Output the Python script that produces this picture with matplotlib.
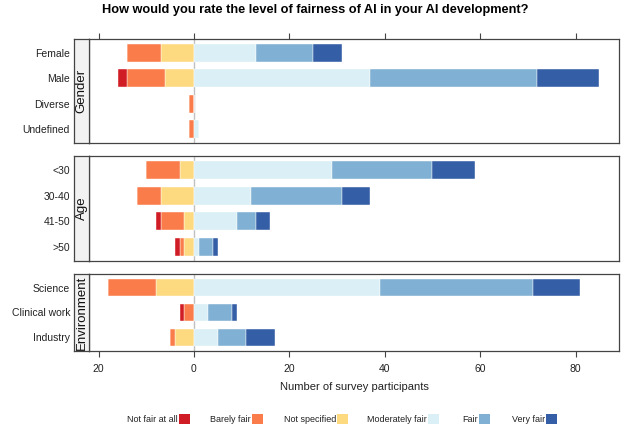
import matplotlib
matplotlib.use("Agg")
import matplotlib.pyplot as plt
import numpy as np

plt.rcParams['font.family'] = ['Liberation Sans', 'DejaVu Sans']

title = "How would you rate the level of fairness of AI in your AI development?"
xlabel = "Number of survey participants"

groups = ["Gender", "Age", "Environment"]
gender_cats = ["Female", "Male", "Diverse", "Undefined"]
age_cats = ["<30", "30-40", "41-50", ">50"]
env_cats = ["Science", "Clinical work", "Industry"]

levels = ["Not fair at all", "Barely fair", "Not specified", "Moderately fair", "Fair", "Very fair"]
colors = ["#d01c24", "#f97c4a", "#fdd97f", "#daeff6", "#80b0d3", "#345ea6"]

# values per category, in order: gender, age, environment
not_fair_at_all = [0, 2, 0, 0, 0, 0, 1, 1, 0, 1, 0]
barely_fair     = [7, 8, 1, 1, 7, 5, 5, 1, 10, 2, 1]
not_specified   = [7, 6, 0, 0, 3, 7, 2, 2, 8, 0, 4]
moderately_fair = [13, 37, 0, 1, 29, 12, 9, 1, 39, 3, 5]
fair            = [12, 35, 0, 0, 21, 19, 4, 3, 32, 5, 6]
very_fair       = [6, 13, 0, 0, 9, 6, 3, 1, 10, 1, 6]

xticks = [-20, 0, 20, 40, 60, 80]

W, H = 630, 428
fig = plt.figure(figsize=(W / 100, H / 100), dpi=100)

panel_px = [(39, 143), (156, 261), (274, 351)]
cat_lists = [gender_cats, age_cats, env_cats]
left_px, right_px, strip_px = 89, 619, 74
frame_col = "#444444"

start = 0
for gi, (grp, cats, (ptop, pbot)) in enumerate(zip(groups, cat_lists, panel_px)):
    n = len(cats)
    sl = slice(start, start + n)
    start += n
    ax = fig.add_axes([left_px / W, 1 - pbot / H, (right_px - left_px) / W, (pbot - ptop) / H])
    y = np.arange(n)
    nf = np.array(not_fair_at_all[sl]); bf = np.array(barely_fair[sl]); ns = np.array(not_specified[sl])
    mf = np.array(moderately_fair[sl]); fa = np.array(fair[sl]); vf = np.array(very_fair[sl])
    h = 0.7
    ax.axvline(0, color="#c0c0c0", lw=1.0, zorder=1)
    kw = dict(height=h, edgecolor="white", linewidth=0.3, zorder=2)
    ax.barh(y, -ns, left=0, color=colors[2], **kw)
    ax.barh(y, -bf, left=-ns, color=colors[1], **kw)
    ax.barh(y, -nf, left=-ns - bf, color=colors[0], **kw)
    ax.barh(y, mf, left=0, color=colors[3], **kw)
    ax.barh(y, fa, left=mf, color=colors[4], **kw)
    ax.barh(y, vf, left=mf + fa, color=colors[5], **kw)
    ax.set_xlim(-22, 89.1)
    ax.set_ylim(n - 0.45, -0.55)
    ax.set_yticks(y)
    ax.set_yticklabels(cats, fontsize=7.5, color="#222222")
    ax.tick_params(axis="y", length=0, pad=(left_px - 70) * 0.72)
    ax.set_xticks(xticks)
    if gi == 0:
        ax.xaxis.set_ticks_position("top")
        ax.tick_params(axis="x", direction="out", length=4, width=0.8, color=frame_col,
                       labeltop=False, labelbottom=False, bottom=False)
    elif gi == 2:
        ax.set_xticklabels([str(abs(t)) for t in xticks], fontsize=7.5, color="#222222")
        ax.tick_params(axis="x", direction="out", length=4, width=0.8, color=frame_col, pad=5)
        ax.set_xlabel(xlabel, fontsize=8, color="#222222", labelpad=6)
    else:
        ax.tick_params(axis="x", length=0, labelbottom=False)
    for s in ax.spines.values():
        s.set_color(frame_col)
        s.set_linewidth(0.9)
    # strip
    sax = fig.add_axes([strip_px / W, 1 - pbot / H, (left_px - strip_px) / W, (pbot - ptop) / H])
    sax.set_facecolor("#f2f2f2")
    sax.set_xticks([]); sax.set_yticks([])
    for s in sax.spines.values():
        s.set_color(frame_col)
        s.set_linewidth(0.9)
    sax.text(0.5, 0.5, grp, rotation=90, ha="center", va="center", fontsize=9.5,
             transform=sax.transAxes, color="#111111")

fig.text(315 / W, 1 - 10 / H, title, ha="center", va="center", fontsize=9.2, fontweight="bold")

# legend
leg_box_x = [179, 252, 337, 428, 479, 546]
ly = 419
for lab, c, bx in zip(levels, colors, leg_box_x):
    fig.text((bx - 1) / W, 1 - ly / H, lab, ha="right", va="center", fontsize=6.5, color="#222222")
    fig.patches.append(plt.Rectangle((bx / W, 1 - (ly + 5) / H), 11 / W, 10 / H,
                                     transform=fig.transFigure, facecolor=c, edgecolor="none"))

fig.savefig("out.png", dpi=100)
